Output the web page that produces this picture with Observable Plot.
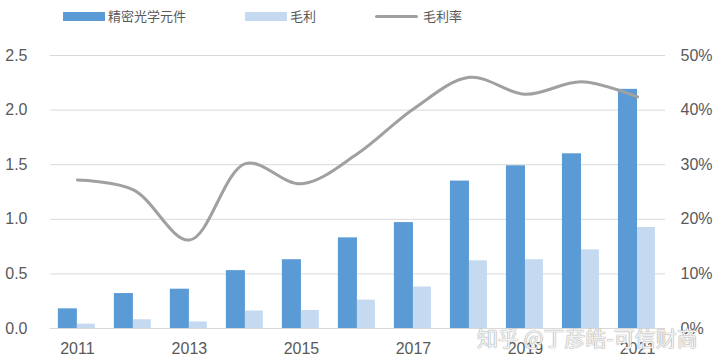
<!DOCTYPE html>
<html>
<head>
<meta charset="utf-8">
<script src="https://cdn.jsdelivr.net/npm/d3@7"></script>
<script src="https://cdn.jsdelivr.net/npm/@observablehq/plot@0.6"></script>
<style>
  html, body { margin: 0; padding: 0; background: #fff; }
  #wrap { position: relative; width: 720px; height: 363px; overflow: hidden; }
  .lg { position: absolute; font-family: "Noto Sans CJK SC", sans-serif; font-size: 13px; color: #595959; line-height: 13px; }
  .sw { position: absolute; }
  #wm { position: absolute; left: 477px; top: 322px; font-family: "Noto Sans CJK SC", sans-serif; font-size: 21px; color: rgba(255,255,255,0.9);
        text-shadow: 0 0 1px #999, 0 0 1px #999; white-space: nowrap; letter-spacing: 0px; }
</style>
</head>
<body>
<div id="wrap">
  <div id="chart"></div>
  <div class="sw" style="left:63px;top:12px;width:42px;height:9px;background:#5B9BD5"></div>
  <div class="lg" style="left:108px;top:9px">精密光学元件</div>
  <div class="sw" style="left:245px;top:12px;width:42px;height:9px;background:#C5DAF0"></div>
  <div class="lg" style="left:290px;top:9px">毛利</div>
  <div class="sw" style="left:375px;top:15px;width:43px;height:3px;background:#A0A0A0;border-radius:2px"></div>
  <div class="lg" style="left:423px;top:9px">毛利率</div>
  <div id="wm">知乎 @丁彦皓-可信财商</div>
</div>
<script>
const years = [2011, 2012, 2013, 2014, 2015, 2016, 2017, 2018, 2019, 2020, 2021];
const revenue = [0.18, 0.32, 0.36, 0.53, 0.63, 0.83, 0.97, 1.35, 1.49, 1.60, 2.19];
const grossProfit = [0.04, 0.08, 0.06, 0.16, 0.165, 0.26, 0.38, 0.62, 0.63, 0.72, 0.925];
const grossMargin = [27.2, 25.4, 16.2, 30.2, 26.5, 32.0, 40.2, 46.0, 42.9, 45.2, 42.4];
const leftTicks = [0, 0.5, 1.0, 1.5, 2.0, 2.5];
const rightTicks = [0, 10, 20, 30, 40, 50];
const xTicks = [2011, 2013, 2015, 2017, 2019, 2021];

const rows = years.map((y, i) => ({year: y, revenue: revenue[i], gp: grossProfit[i], margin: grossMargin[i]}));
const scaleRatio = 2.5 / 50; // right axis 50% ↔ left 2.5
const half = 0.34;

const chart = Plot.plot({
  width: 720,
  height: 363,
  marginTop: 55,
  marginBottom: 35,
  marginLeft: 50,
  marginRight: 55,
  style: {fontFamily: "'Liberation Sans', Arial, sans-serif", fontSize: "16px", color: "#595959", background: "#fff"},
  x: {type: "linear", domain: [2010.52, 2021.5], ticks: xTicks, tickFormat: "d", tickSize: 0, tickPadding: 14, label: null},
  y: {domain: [0, 2.5], ticks: leftTicks, tickFormat: d => d.toFixed(1), tickSize: 0, tickPadding: 23, label: null},
  marks: [
    Plot.ruleY(leftTicks, {stroke: "#d9d9d9", strokeWidth: 1}),
    Plot.rectY(rows, {x1: d => d.year - half, x2: d => d.year, y: "revenue", fill: "#5B9BD5"}),
    Plot.rectY(rows, {x1: d => d.year, x2: d => d.year + half - 0.02, y: "gp", fill: "#C5DAF0"}),
    Plot.lineY(rows, {x: "year", y: d => d.margin * scaleRatio, stroke: "#A0A0A0", strokeWidth: 3, curve: "catmull-rom"}),
    Plot.text(rightTicks, {y: d => d * scaleRatio, text: d => d + "%", frameAnchor: "right", dx: 15, textAnchor: "start", fill: "#595959", fontSize: 16})
  ]
});
document.getElementById("chart").appendChild(chart);
</script>
</body>
</html>
